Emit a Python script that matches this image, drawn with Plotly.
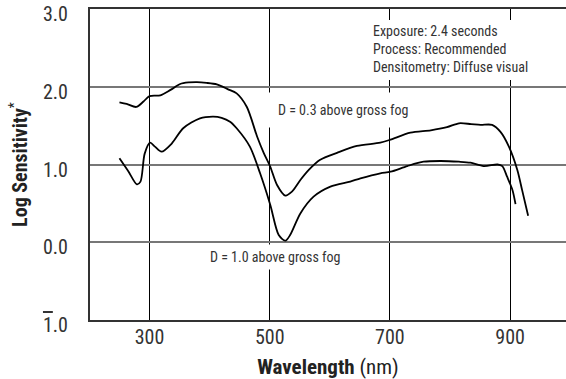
import plotly.graph_objects as go

# ---- data ----
wl_03 = [250, 262, 278, 290, 300, 318, 335, 351, 365, 379, 395, 412, 430, 445, 462, 479, 490, 501,
         512, 526, 537, 551, 565, 584, 612, 645, 684, 701, 734, 768, 795, 815, 835, 851, 870, 884,
         898, 912, 920, 930]
ls_03 = [1.80, 1.78, 1.74, 1.81, 1.88, 1.89, 1.96, 2.035, 2.055, 2.06, 2.05, 2.03, 1.97, 1.915, 1.74,
         1.36, 1.15, 0.97, 0.74, 0.60, 0.65, 0.80, 0.93, 1.06, 1.15, 1.24, 1.28, 1.32, 1.41, 1.44,
         1.48, 1.53, 1.52, 1.51, 1.51, 1.42, 1.23, 0.93, 0.67, 0.34]

wl_10 = [250, 265, 279, 285, 292, 301, 309, 320, 337, 356, 384, 406, 420, 434, 445, 467, 484, 501,
         515, 526, 534, 551, 573, 601, 634, 651, 684, 701, 729, 756, 784, 815, 834, 856, 879, 887,
         895, 904, 909]
ls_10 = [1.08, 0.91, 0.745, 0.78, 1.14, 1.28, 1.23, 1.165, 1.27, 1.466, 1.594, 1.615, 1.60, 1.55,
         1.466, 1.23, 0.887, 0.48, 0.093, 0.02, 0.093, 0.37, 0.586, 0.715, 0.78, 0.822, 0.887, 0.907,
         0.98, 1.036, 1.045, 1.036, 1.023, 0.98, 1.0, 0.98, 0.843, 0.67, 0.49]

x_ticks = [300, 500, 700, 900]
y_ticks = [-1, 0, 1, 2, 3]
y_tick_text = ["<span style='text-decoration:overline'>1</span>.0", "0.0", "1.0", "2.0", "3.0"]

label_03 = "D = 0.3 above gross fog"
label_10 = "D = 1.0 above gross fog"
info_lines = ["Exposure: 2.4 seconds", "Process: Recommended", "Densitometry: Diffuse visual"]

FONT = "Roboto Condensed, Liberation Sans Narrow, Arial Narrow, DejaVu Sans Condensed, sans-serif"
TXT = "#333333"

fig = go.Figure()
for wl, ls in [(wl_03, ls_03), (wl_10, ls_10)]:
    fig.add_trace(go.Scatter(x=wl, y=ls, mode="lines",
                             line=dict(color="black", width=1.8, shape="spline", smoothing=0.8),
                             showlegend=False, hoverinfo="skip"))

fig.update_layout(
    width=566, height=379,
    margin=dict(l=90, r=0, t=9, b=59),
    paper_bgcolor="white", plot_bgcolor="white",
    font=dict(family=FONT, color=TXT, size=14),
    xaxis=dict(range=[201, 993], tickvals=x_ticks, ticktext=[str(v) for v in x_ticks],
               automargin=False,
               showgrid=True, gridcolor="black", gridwidth=1, zeroline=False,
               showline=True, linecolor="#333333", linewidth=2, mirror=True,
               ticks="", tickfont=dict(size=20, family=FONT, color=TXT),
               ticklabelstandoff=-2,
               title=dict(text="<b>Wavelength</b> (nm)", font=dict(size=21, family=FONT, color="#222"),
                          standoff=12)),
    yaxis=dict(range=[-1, 3], tickvals=y_ticks, ticktext=y_tick_text,
               automargin=False,
               showgrid=True, gridcolor="#777777", gridwidth=1.5, zeroline=False,
               showline=True, linecolor="#333333", linewidth=2,
               ticks="", tickfont=dict(size=20, family=FONT, color=TXT),
               ticklabelstandoff=16, ticklabelshift=5, ticklabeloverflow="allow",
               title=dict(text="<b>Log Sensitivity</b><sup>*</sup>",
                          font=dict(size=20, family=FONT, color="#222"), standoff=10)),
)

fig.add_annotation(x=622, y=1.70, xref="x", yref="y", text=label_03, showarrow=False,
                   font=dict(size=14, family=FONT, color=TXT), bgcolor="white", borderpad=9)
fig.add_annotation(x=509, y=-0.19, xref="x", yref="y", text=label_10, showarrow=False,
                   font=dict(size=14, family=FONT, color=TXT), bgcolor="white", borderpad=4)

# white panel behind the exposure notes (hides gridlines, as in the reference)
fig.add_shape(type="rect", xref="x", yref="y", x0=661, x1=944, y0=2.087, y1=2.859,
              fillcolor="white", line=dict(width=0), layer="between")
fig.add_annotation(x=671, y=2.486, xref="x", yref="y", text="<br>".join(info_lines),
                   showarrow=False, xanchor="left", yanchor="middle", align="left",
                   font=dict(size=14, family=FONT, color=TXT), borderpad=0)

fig.write_html("out.html")
